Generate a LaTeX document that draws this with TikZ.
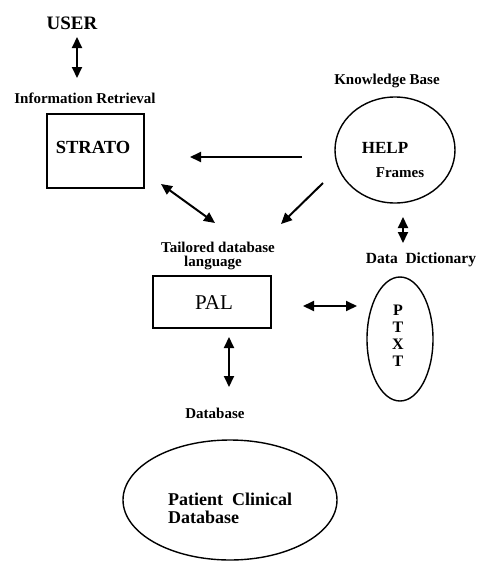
\documentclass[tikz,border=0pt]{standalone}
\usepackage{fontspec}
\setmainfont{Liberation Serif}
\usetikzlibrary{arrows.meta,shapes.geometric}
\begin{document}
\begin{tikzpicture}[x=1pt,y=-1pt,
  txt/.style={inner sep=0pt,anchor=base,font=\bfseries\fontsize{15}{15}\selectfont},
  boxshape/.style={draw,line width=1.6pt,inner sep=0pt},
  ellshape/.style={draw,ellipse,line width=1.4pt,inner sep=0pt},
  tip/.tip={Triangle[length=11pt,width=10pt]},
  arr/.style={line width=2pt,-tip},
  darr/.style={line width=2pt,tip-tip}]
\useasboundingbox (0,0) rectangle (477,562);
% texts
\node[txt,font=\bfseries\fontsize{19}{19}\selectfont] (user) at (72,29) {USER};
\node[txt] (ir) at (85,103) {Information Retrieval};
\node[txt,font=\bfseries\fontsize{18.5}{18.5}\selectfont] (stratot) at (93,153) {STRATO};
\node[txt] (kb) at (387,84) {Knowledge Base};
\node[txt,font=\bfseries\fontsize{17}{17}\selectfont] (helpt) at (385,153) {HELP};
\node[txt] (frames) at (400,177) {Frames};
\node[txt] (tail) at (218,252) {Tailored database};
\node[txt] (lang) at (213,266) {language};
\node[txt,font=\bfseries\fontsize{15.5}{15.5}\selectfont] (dd) at (421,263) {Data\ \ Dictionary};
\node[txt,font=\fontsize{21}{21}\selectfont] (palt) at (214,309) {PAL};
\node[txt,font=\bfseries\fontsize{16}{16}\selectfont] (p1) at (398,315) {P};
\node[txt,font=\bfseries\fontsize{16}{16}\selectfont] (p2) at (398,332) {T};
\node[txt,font=\bfseries\fontsize{16}{16}\selectfont] (p3) at (398,349) {X};
\node[txt,font=\bfseries\fontsize{16}{16}\selectfont] (p4) at (398,366) {T};
\node[txt] (db) at (215,418) {Database};
\node[txt,anchor=base west,font=\bfseries\fontsize{18}{18}\selectfont] (pc1) at (168,505) {Patient\ \ Clinical};
\node[txt,anchor=base west,font=\bfseries\fontsize{18}{18}\selectfont] (pc2) at (168,523) {Database};
% shapes
\node[boxshape,minimum width=97pt,minimum height=74pt] (strato) at (95.5,151) {};
\node[boxshape,minimum width=118pt,minimum height=52pt] (pal) at (212,302) {};
\node[ellshape,minimum width=120pt,minimum height=106pt] (help) at (395,150) {};
\node[ellshape,minimum width=66pt,minimum height=124pt] (ptxt) at (400,339) {};
\node[ellshape,minimum width=214pt,minimum height=120pt] (pcd) at (230,500) {};
% arrow end points
\coordinate (u1) at (77,37);
\coordinate (u2) at (77,78);
\coordinate (h1) at (302,157);
\coordinate (h2) at (190,157);
\coordinate (hp1) at (323,183);
\coordinate (hp2) at (281,224);
\coordinate (sp1) at (161,184);
\coordinate (sp2) at (215,223);
\coordinate (hd1) at (403,217);
\coordinate (hd2) at (403,243);
\coordinate (pp1) at (303,306);
\coordinate (pp2) at (357,306);
\coordinate (pd1) at (229,337);
\coordinate (pd2) at (229,387);
\draw[darr] (u1) -- (u2);
\draw[arr] (h1) -- (h2);
\draw[arr] (hp1) -- (hp2);
\draw[darr] (sp1) -- (sp2);
\draw[darr] (hd1) -- (hd2);
\draw[darr] (pp1) -- (pp2);
\draw[darr] (pd1) -- (pd2);
\end{tikzpicture}
\end{document}
